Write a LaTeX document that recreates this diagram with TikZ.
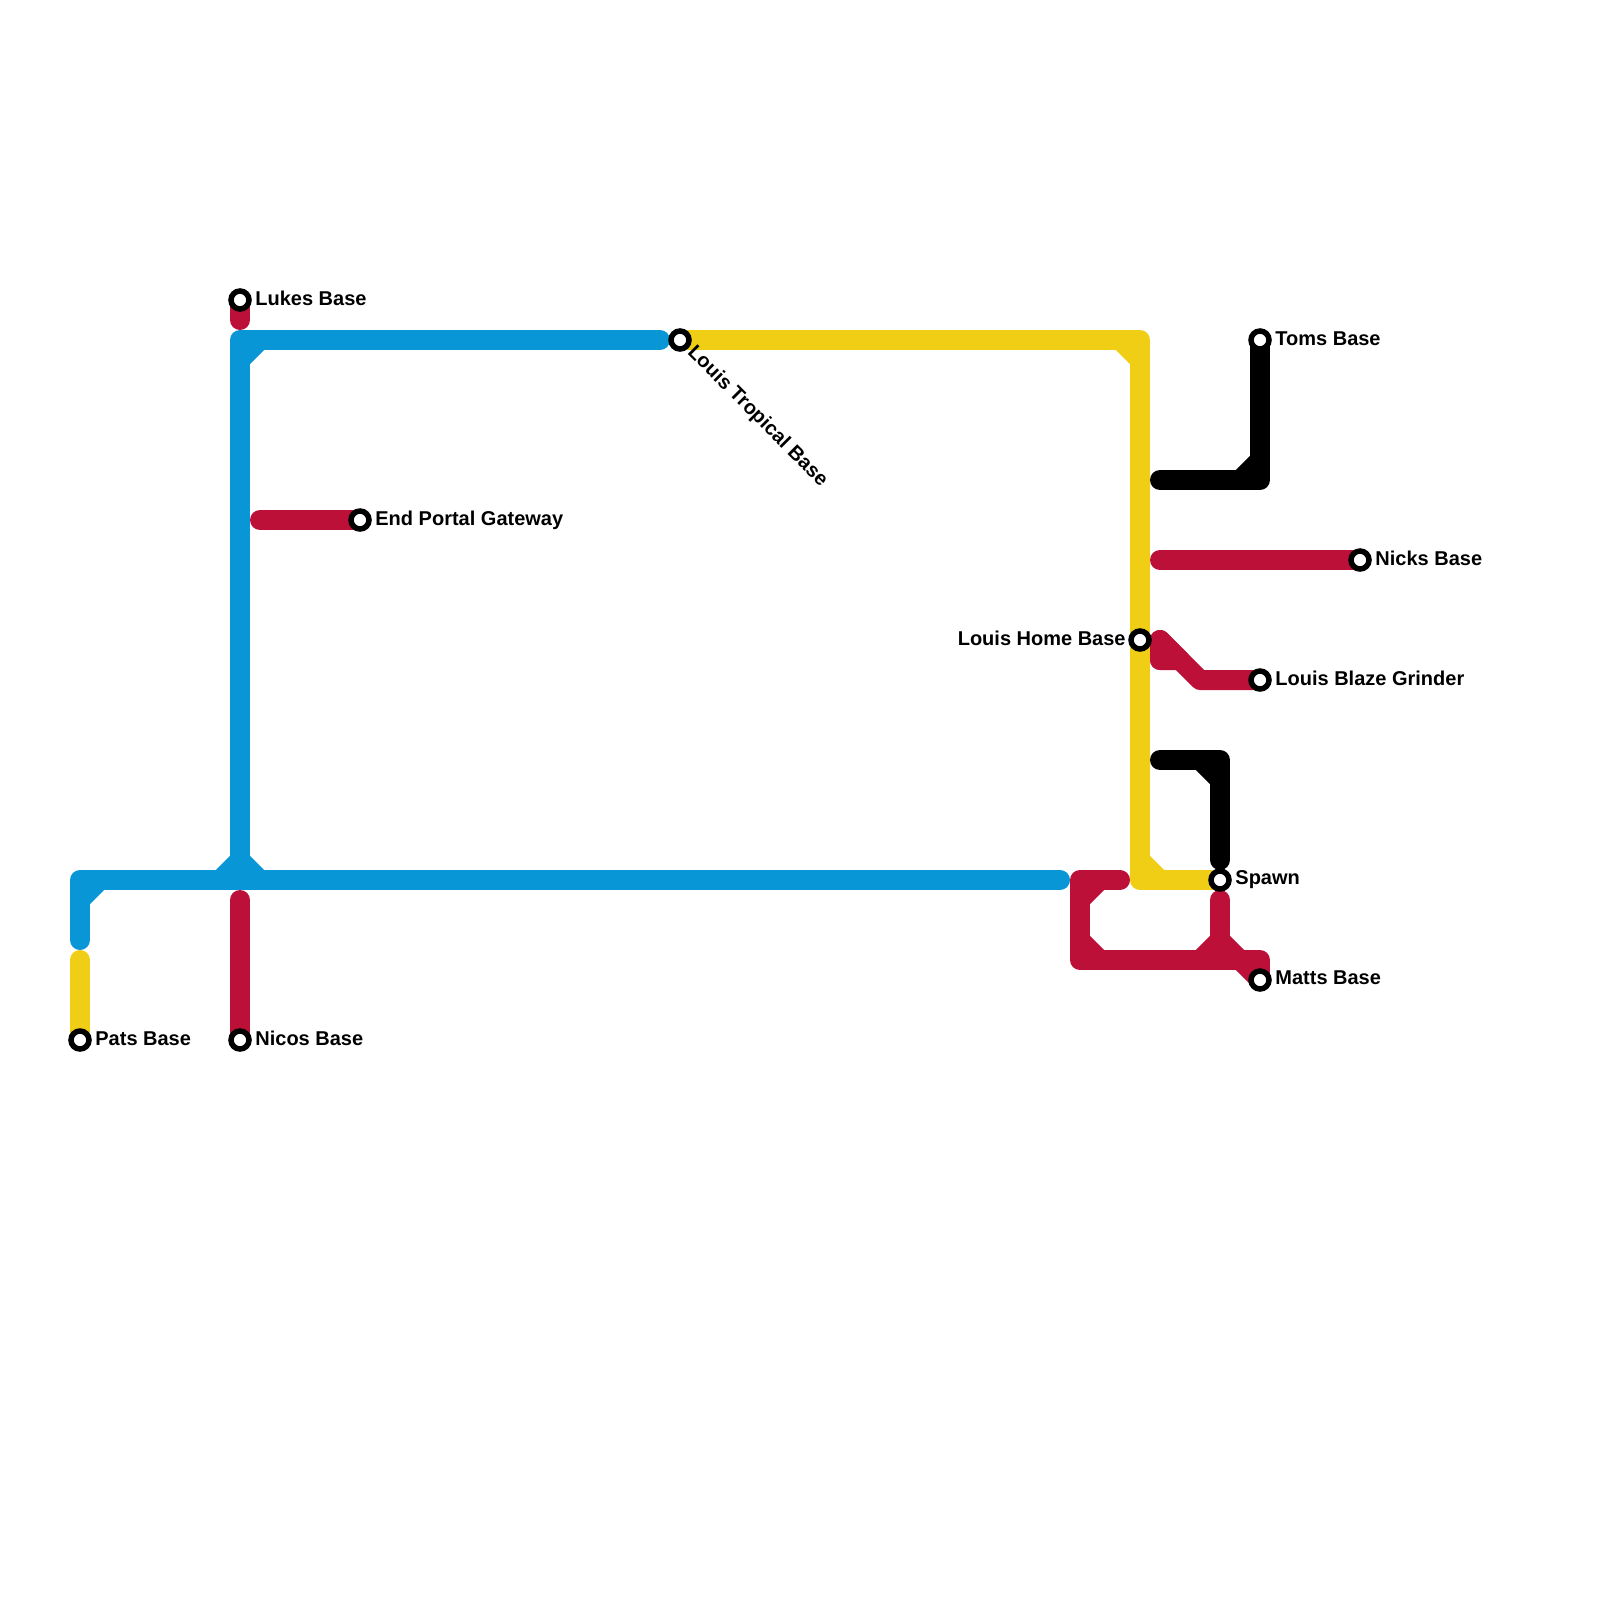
\documentclass[tikz,border=0pt]{standalone}
\usepackage{fontspec}
\setmainfont{Liberation Sans}
\usetikzlibrary{backgrounds}
\definecolor{lblue}{HTML}{0896D7}
\definecolor{lyellow}{HTML}{F0CE15}
\definecolor{lred}{HTML}{BD1038}
\tikzset{
  stn/.style={circle,draw=black,fill=white,line width=2.75pt,outer sep=0pt,minimum size=9pt,inner sep=0pt},
  lbl/.style={font=\bfseries\fontsize{10}{12}\selectfont,inner sep=0pt,text=black},
  track/.style={line width=10pt,line cap=round,line join=round},
  fillet/.style={line width=10pt,line cap=butt},
  blueline/.style={track,lblue},
  yellowline/.style={track,lyellow},
  redline/.style={track,lred},
  blackline/.style={track,black},
}
\begin{document}
\begin{tikzpicture}[x=0.5pt,y=-0.5pt]
\useasboundingbox (0,0) rectangle (1600,1600);
% stations
\node[stn] (lukes) at (240,300) {};
\node[stn] (tropical) at (680,340) {};
\node[stn] (portal) at (360,520) {};
\node[stn] (toms) at (1260,340) {};
\node[stn] (nicks) at (1360,560) {};
\node[stn] (home) at (1140,640) {};
\node[stn] (blaze) at (1260,680) {};
\node[stn] (spawn) at (1220,880) {};
\node[stn] (matts) at (1260,980) {};
\node[stn] (pats) at (80,1040) {};
\node[stn] (nicos) at (240,1040) {};
% labels
\node[lbl,anchor=base west] (tlukes) at (255,305) {Lukes Base};
\node[lbl,anchor=base west,rotate=-45] (ttropical) at (686.5,353) {Louis Tropical Base};
\node[lbl,anchor=base west] (tportal) at (375,525) {End Portal Gateway};
\node[lbl,anchor=base west] (ttoms) at (1275,345) {Toms Base};
\node[lbl,anchor=base west] (tnicks) at (1375,565) {Nicks Base};
\node[lbl,anchor=base east] (thome) at (1126,645) {Louis Home Base};
\node[lbl,anchor=base west] (tblaze) at (1275,685) {Louis Blaze Grinder};
\node[lbl,anchor=base west] (tspawn) at (1235,884.5) {Spawn};
\node[lbl,anchor=base west] (tmatts) at (1275,984.5) {Matts Base};
\node[lbl,anchor=base west] (tpats) at (95,1045) {Pats Base};
\node[lbl,anchor=base west] (tnicos) at (255,1045) {Nicos Base};
% free ends and bends
\coordinate (bA) at (660,340);
\coordinate (bB) at (240,340);
\coordinate (bC) at (240,880);
\coordinate (bD) at (1060,880);
\coordinate (bE) at (80,880);
\coordinate (bF) at (80,940);
\coordinate (yA) at (1140,340);
\coordinate (yB) at (1140,880);
\coordinate (yC) at (80,960);
\coordinate (rA) at (240,320);
\coordinate (rB) at (260,520);
\coordinate (rC) at (240,900);
\coordinate (rD) at (1160,560);
\coordinate (rE) at (1160,640);
\coordinate (rF) at (1200,680);
\coordinate (rG) at (1160,660);
\coordinate (rH) at (1180,660);
\coordinate (rI) at (1120,880);
\coordinate (rJ) at (1080,880);
\coordinate (rK) at (1080,960);
\coordinate (rL) at (1260,960);
\coordinate (rM) at (1220,900);
\coordinate (rN) at (1220,960);
\coordinate (rO) at (1220,940);
\coordinate (kA) at (1160,480);
\coordinate (kB) at (1260,480);
\coordinate (kC) at (1160,760);
\coordinate (kD) at (1220,760);
\coordinate (kE) at (1220,860);
\begin{scope}[on background layer]
% blue
\draw[blueline] (bA) -- (bB) -- (bC);
\draw[blueline] (bF) -- (bE) -- (bD);
\draw[fillet,lblue] (240,360) -- (260,340);
\draw[fillet,lblue] (220,880) -- (240,860) -- (260,880);
\draw[fillet,lblue] (80,900) -- (100,880);
% yellow
\draw[yellowline] (yC) -- (pats.center);
\draw[yellowline] (tropical.center) -- (yA) -- (yB) -- (spawn.center);
\draw[fillet,lyellow] (1120,340) -- (1140,360);
\draw[fillet,lyellow] (1140,860) -- (1160,880);
% red
\draw[redline] (lukes.center) -- (rA);
\draw[redline] (rB) -- (portal.center);
\draw[redline] (rC) -- (nicos.center);
\draw[redline] (rD) -- (nicks.center);
\draw[redline] (rG) -- (rE) -- (rF) -- (blaze.center);
\draw[redline] (rE) -- (rG) -- (rH) -- cycle;
\draw[redline] (rI) -- (rJ) -- (rK) -- (rL) -- (matts.center);
\draw[redline] (rM) -- (rN);
\draw[redline] (rO) -- (matts.center);
\draw[fillet,lred] (1080,900) -- (1100,880);
\draw[fillet,lred] (1080,940) -- (1100,960);
\draw[fillet,lred] (1200,960) -- (1220,940);
% black
\draw[blackline] (kA) -- (kB) -- (toms.center);
\draw[fillet,black] (1240,480) -- (1260,460);
\draw[blackline] (kC) -- (kD) -- (kE);
\draw[fillet,black] (1200,760) -- (1220,780);
\end{scope}
\end{tikzpicture}
\end{document}
